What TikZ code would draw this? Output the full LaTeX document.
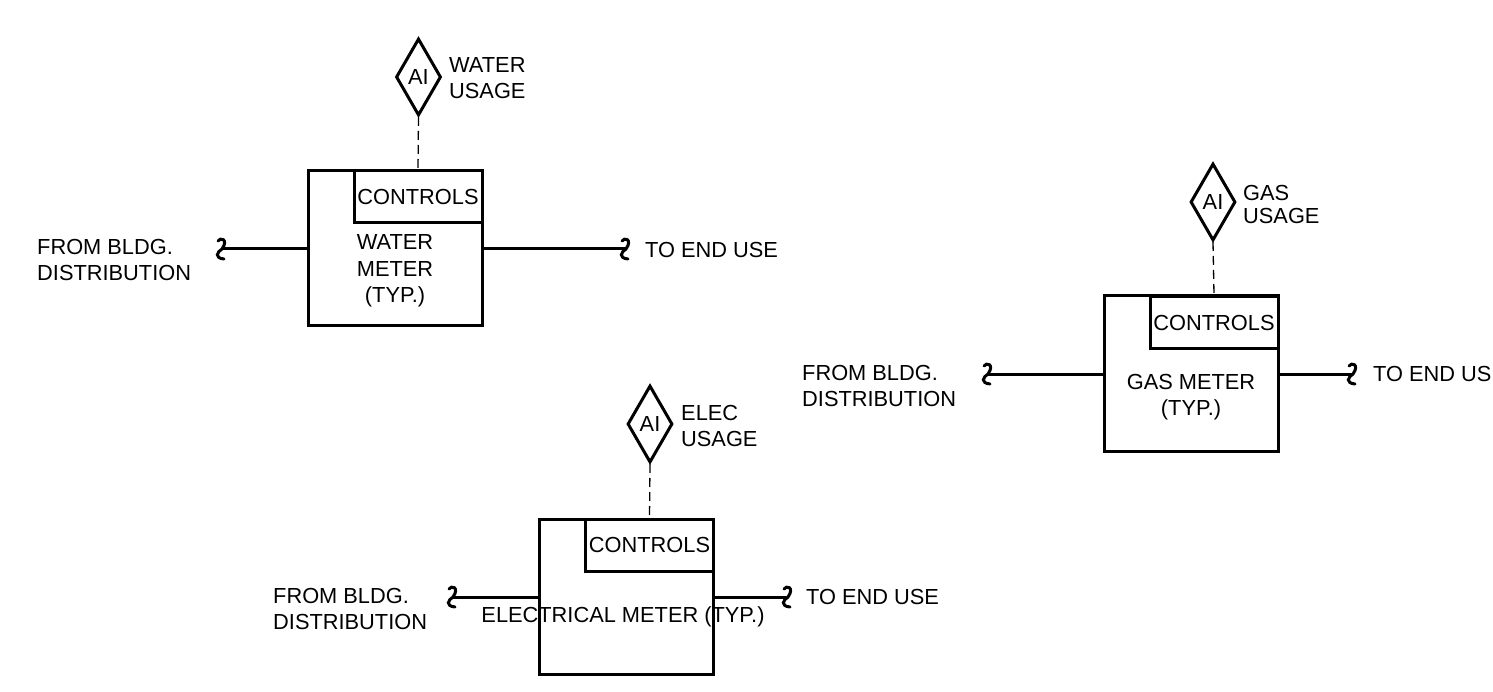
\documentclass[tikz,border=0pt]{standalone}
\usepackage{fontspec}
\setmainfont{Liberation Sans}
\usetikzlibrary{shapes.geometric}
\tikzset{
  x=1pt,y=-1pt,
  lbl/.style={inner sep=0pt,align=left,anchor=west,font=\fontsize{21.8}{26.5}\selectfont},
  ctr/.style={inner sep=0pt,align=center,font=\fontsize{21.8}{26.5}\selectfont},
  meterbox/.style={draw,line width=3pt,rectangle,minimum width=174pt,minimum height=155pt,inner sep=0pt,line join=miter},
  ctrlbox/.style={draw,line width=3pt,rectangle,minimum width=128pt,minimum height=52pt,inner sep=0pt,font=\fontsize{21.8}{26.5}\selectfont},
  aidiamond/.style={draw,line width=3pt,diamond,minimum width=45pt,minimum height=77pt,inner sep=0pt,shape aspect=0.58,font=\fontsize{21.8}{26.5}\selectfont},
  pipe/.style={line width=3pt},
  sig/.style={line width=1.3pt,dash pattern=on 9pt off 5pt},
  squig/.style={line width=3pt,line cap=round},
}
\newcommand{\squiggle}[1]{%
  \draw[squig] ([shift={(-4,-8)}]#1) .. controls ([shift={(-2,-12)}]#1) and ([shift={(7,-10)}]#1) .. (#1)
     .. controls ([shift={(-5,3)}]#1) and ([shift={(-8,9)}]#1) .. ([shift={(2,10)}]#1);}
\begin{document}
\begin{tikzpicture}
\useasboundingbox (0,0) rectangle (1493,692);
% WATER
\node[meterbox] (wm) at (395,248.5) {};
\node[ctrlbox] (wc) at (418,197) {CONTROLS};
\node[aidiamond] (wd) at (418.5,77) {AI};
\node[lbl] (wu) at (449,78) {WATER\\USAGE};
\node[ctr] (wt) at (395,271) {WATER\\METER\\(TYP.)};
\node[lbl] (wf) at (37,260) {FROM BLDG.\\DISTRIBUTION};
\node[lbl] (we) at (645,250) {TO END USE};
\coordinate (wl) at (222,249);
\coordinate (wr) at (626,249);
\draw[pipe] (wl) -- (wm.west |- wl);
\draw[pipe] (wm.east |- wr) -- (wr);
\draw[sig] (wd.south) -- (wc.north);
\squiggle{wl}\squiggle{wr}
% GAS
\node[meterbox] (gm) at (1191,373.5) {};
\node[ctrlbox] (gc) at (1214,322.5) {CONTROLS};
\node[aidiamond] (gd) at (1213,202) {AI};
\node[lbl] (gu) at (1243,204.5) {GAS\\[-3pt]USAGE};
\node[ctr] (gt) at (1191,397) {GAS METER\\(TYP.)};
\node[lbl] (gf) at (802,386) {FROM BLDG.\\DISTRIBUTION};
\node[lbl] (ge) at (1373,374) {TO END US};
\coordinate (gl) at (988,374);
\coordinate (gr) at (1353,374);
\draw[pipe] (gl) -- (gm.west |- gl);
\draw[pipe] (gm.east |- gr) -- (gr);
\draw[sig] (gd.south) -- (gc.north);
\squiggle{gl}\squiggle{gr}
% ELEC
\node[meterbox] (em) at (626,596.5) {};
\node[ctrlbox] (ec) at (649.5,545) {CONTROLS};
\node[aidiamond] (ed) at (650,424) {AI};
\node[lbl] (eu) at (681,426) {ELEC\\USAGE};
\node[ctr] (et) at (623,617) {ELECTRICAL METER (TYP.)};
\node[lbl] (ef) at (273,609) {FROM BLDG.\\DISTRIBUTION};
\node[lbl] (ee) at (806,597) {TO END USE};
\coordinate (el) at (453,597);
\coordinate (er) at (788,597);
\draw[pipe] (el) -- (em.west |- el);
\draw[pipe] (em.east |- er) -- (er);
\draw[sig] (ed.south) -- (ec.north);
\squiggle{el}\squiggle{er}
\end{tikzpicture}
\end{document}
